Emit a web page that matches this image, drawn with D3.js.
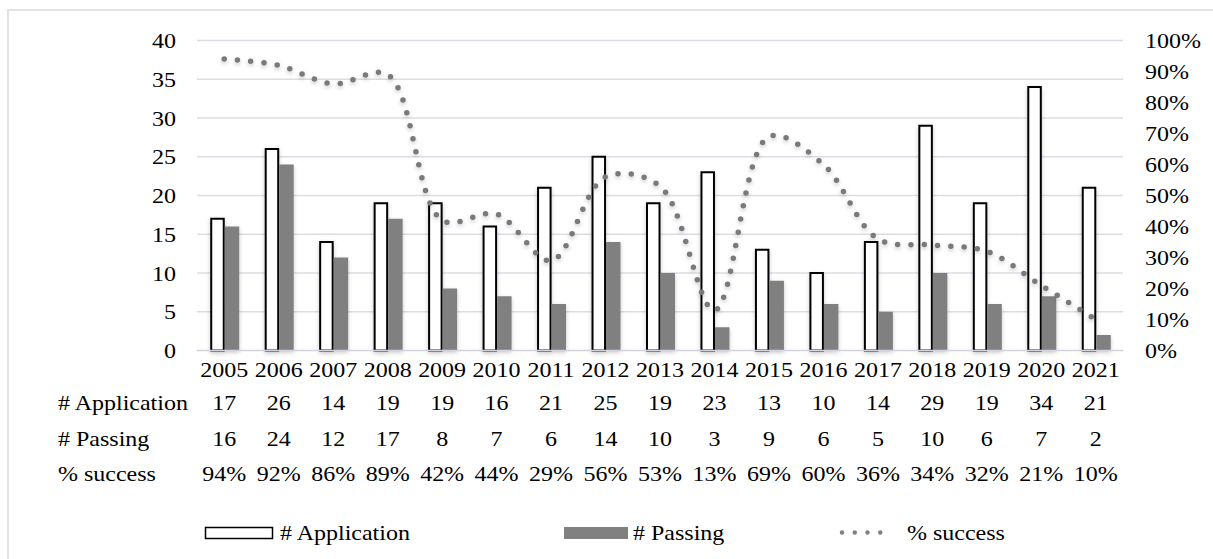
<!DOCTYPE html>
<html>
<head>
<meta charset="utf-8">
<script src="https://cdn.jsdelivr.net/npm/d3@7"></script>
<style>
  body { margin: 0; background: #fff; }
</style>
</head>
<body>
<div class="canvas"></div>
<script>
// data
const years = ['2005','2006','2007','2008','2009','2010','2011','2012','2013','2014','2015','2016','2017','2018','2019','2020','2021']
const applications = [17, 26, 14, 19, 19, 16, 21, 25, 19, 23, 13, 10, 14, 29, 19, 34, 21]
const passing = [16, 24, 12, 17, 8, 7, 6, 14, 10, 3, 9, 6, 5, 10, 6, 7, 2]
const success = [94, 92, 86, 89, 42, 44, 29, 56, 53, 13, 69, 60, 36, 34, 32, 21, 10]
const leftTicks = [0, 5, 10, 15, 20, 25, 30, 35, 40]
const rightTicks = [0, 10, 20, 30, 40, 50, 60, 70, 80, 90, 100]

const width = 1213
const height = 559
const stretch = 1.2   // text in the picture is a bit wider than normal
const fontSize = 20
const serif = "'Liberation Serif', 'Times New Roman', Times, serif"

const svg = d3.select('.canvas')
    .append('svg')
    .attr('width', width)
    .attr('height', height)
    .style('font-family', serif)

const defs = svg.append('defs')
defs.append('filter')
    .attr('id', 'shadow')
    .attr('x', '-50%').attr('y', '-50%').attr('width', '200%').attr('height', '200%')
  .append('feDropShadow')
    .attr('dx', 0).attr('dy', 2)
    .attr('stdDeviation', 2)
    .attr('flood-color', '#000')
    .attr('flood-opacity', 0.22)

// outer chart border (right/bottom run off the picture)
svg.append('rect')
    .attr('x', 8).attr('y', 10)
    .attr('width', width + 10).attr('height', height + 10)
    .attr('fill', 'none')
    .attr('stroke', '#dfe3e8')
    .attr('stroke-width', 2)

// scales
const x = d3.scaleBand()
    .domain(years)
    .range([197, 1123])

const xSub = d3.scaleBand()
    .domain(['app', 'pass'])
    .range([-14, 15])

const y = d3.scaleLinear()
    .domain([0, 40])
    .range([350.5, 40.5])

const yPct = d3.scaleLinear()
    .domain([0, 100])
    .range([350.5, 40.5])

const cx = d => x(d) + x.bandwidth() / 2

// gridlines
svg.append('g')
    .selectAll('line')
    .data(leftTicks.filter(t => t > 0))
    .enter()
    .append('line')
    .attr('x1', 197).attr('x2', 1123)
    .attr('y1', d => y(d)).attr('y2', d => y(d))
    .attr('stroke', '#dadee4')
    .attr('stroke-width', 1.3)

// left axis
const yAxisGroup = svg.append('g').attr('transform', 'translate(197,0)')
yAxisGroup.call(d3.axisLeft(y).tickValues(leftTicks).tickSize(0).tickPadding(0))
yAxisGroup.attr('font-family', serif)
yAxisGroup.select('.domain').remove()
yAxisGroup.selectAll('text')
    .attr('font-size', fontSize)
    .attr('fill', '#000')
    .style('font-family', serif)
    .attr('x', -21 / stretch)
    .attr('dy', '0.36em')
    .attr('transform', `scale(${stretch},1)`)

// right axis
const yAxisRight = svg.append('g').attr('transform', 'translate(1123,0)')
yAxisRight.call(d3.axisRight(yPct).tickValues(rightTicks).tickFormat(d => d + '%').tickSize(0).tickPadding(0))
yAxisRight.attr('font-family', serif)
yAxisRight.select('.domain').remove()
yAxisRight.selectAll('text')
    .attr('font-size', fontSize)
    .attr('fill', '#000')
    .style('font-family', serif)
    .attr('x', 22 / stretch)
    .attr('dy', '0.36em')
    .attr('transform', `scale(${stretch},1)`)

// bars
const bars = svg.append('g').attr('filter', 'url(#shadow)')

bars.selectAll('rect.app')
    .data(years)
    .enter()
    .append('rect')
    .attr('class', 'app')
    .attr('x', (d, i) => cx(d) + xSub('app') + 1)
    .attr('width', xSub.bandwidth() - 2)
    .attr('y', (d, i) => y(applications[i]))
    .attr('height', (d, i) => y(0) - y(applications[i]))
    .attr('fill', '#fff')
    .attr('stroke', '#000')
    .attr('stroke-width', 2)

bars.selectAll('rect.pass')
    .data(years)
    .enter()
    .append('rect')
    .attr('class', 'pass')
    .attr('x', (d, i) => cx(d) + xSub('pass'))
    .attr('width', xSub.bandwidth())
    .attr('y', (d, i) => y(passing[i]))
    .attr('height', (d, i) => y(0) - y(passing[i]))
    .attr('fill', '#808080')

// baseline
svg.append('line')
    .attr('x1', 197).attr('x2', 1123)
    .attr('y1', y(0)).attr('y2', y(0))
    .attr('stroke', '#d0d4da')
    .attr('stroke-width', 1.5)

// % success dotted smooth line
const line = d3.line()
    .x((d, i) => cx(years[i]))
    .y(d => yPct(d))
    .curve(d3.curveCatmullRom.alpha(0.5))

svg.append('path')
    .datum(success)
    .attr('d', line)
    .attr('fill', 'none')
    .attr('stroke', '#7a7a7a')
    .attr('stroke-width', 5.5)
    .attr('stroke-linecap', 'round')
    .attr('stroke-dasharray', '0 13.3')
    .attr('filter', 'url(#shadow)')

// helper for stretched text
function label(sel) {
    return sel
        .attr('font-size', fontSize)
        .attr('fill', '#000')
        .style('font-family', serif)
}

// year labels
svg.append('g')
    .selectAll('text')
    .data(years)
    .enter()
    .append('text')
    .call(label)
    .attr('text-anchor', 'middle')
    .attr('transform', d => `translate(${cx(d)},377) scale(${stretch},1)`)
    .text(d => d)

// data table
const rows = [
    {label: '# Application', values: applications.map(String), base: 410},
    {label: '# Passing', values: passing.map(String), base: 445.5},
    {label: '% success', values: success.map(v => v + '%'), base: 480.5}
]

rows.forEach(row => {
    svg.append('text')
        .call(label)
        .attr('transform', `translate(58,${row.base}) scale(${stretch},1)`)
        .text(row.label)

    svg.append('g')
        .selectAll('text')
        .data(row.values)
        .enter()
        .append('text')
        .call(label)
        .attr('text-anchor', 'middle')
        .attr('transform', (d, i) => `translate(${cx(years[i])},${row.base}) scale(${stretch},1)`)
        .text(d => d)
})

// legend
const legend = svg.append('g')

legend.append('rect')
    .attr('x', 205.5).attr('y', 527.5)
    .attr('width', 67).attr('height', 11)
    .attr('fill', '#fff')
    .attr('stroke', '#000')
    .attr('stroke-width', 1.5)
legend.append('text')
    .call(label)
    .attr('transform', `translate(280,540) scale(${stretch},1)`)
    .text('# Application')

legend.append('rect')
    .attr('x', 564).attr('y', 527)
    .attr('width', 64).attr('height', 12)
    .attr('fill', '#808080')
legend.append('text')
    .call(label)
    .attr('transform', `translate(633,540) scale(${stretch},1)`)
    .text('# Passing')

legend.append('line')
    .attr('x1', 842).attr('x2', 893)
    .attr('y1', 532.5).attr('y2', 532.5)
    .attr('stroke', '#808080')
    .attr('stroke-width', 4.5)
    .attr('stroke-linecap', 'round')
    .attr('stroke-dasharray', '0 12.75')
legend.append('text')
    .call(label)
    .attr('transform', `translate(907,540) scale(${stretch},1)`)
    .text('% success')
</script>
</body>
</html>
